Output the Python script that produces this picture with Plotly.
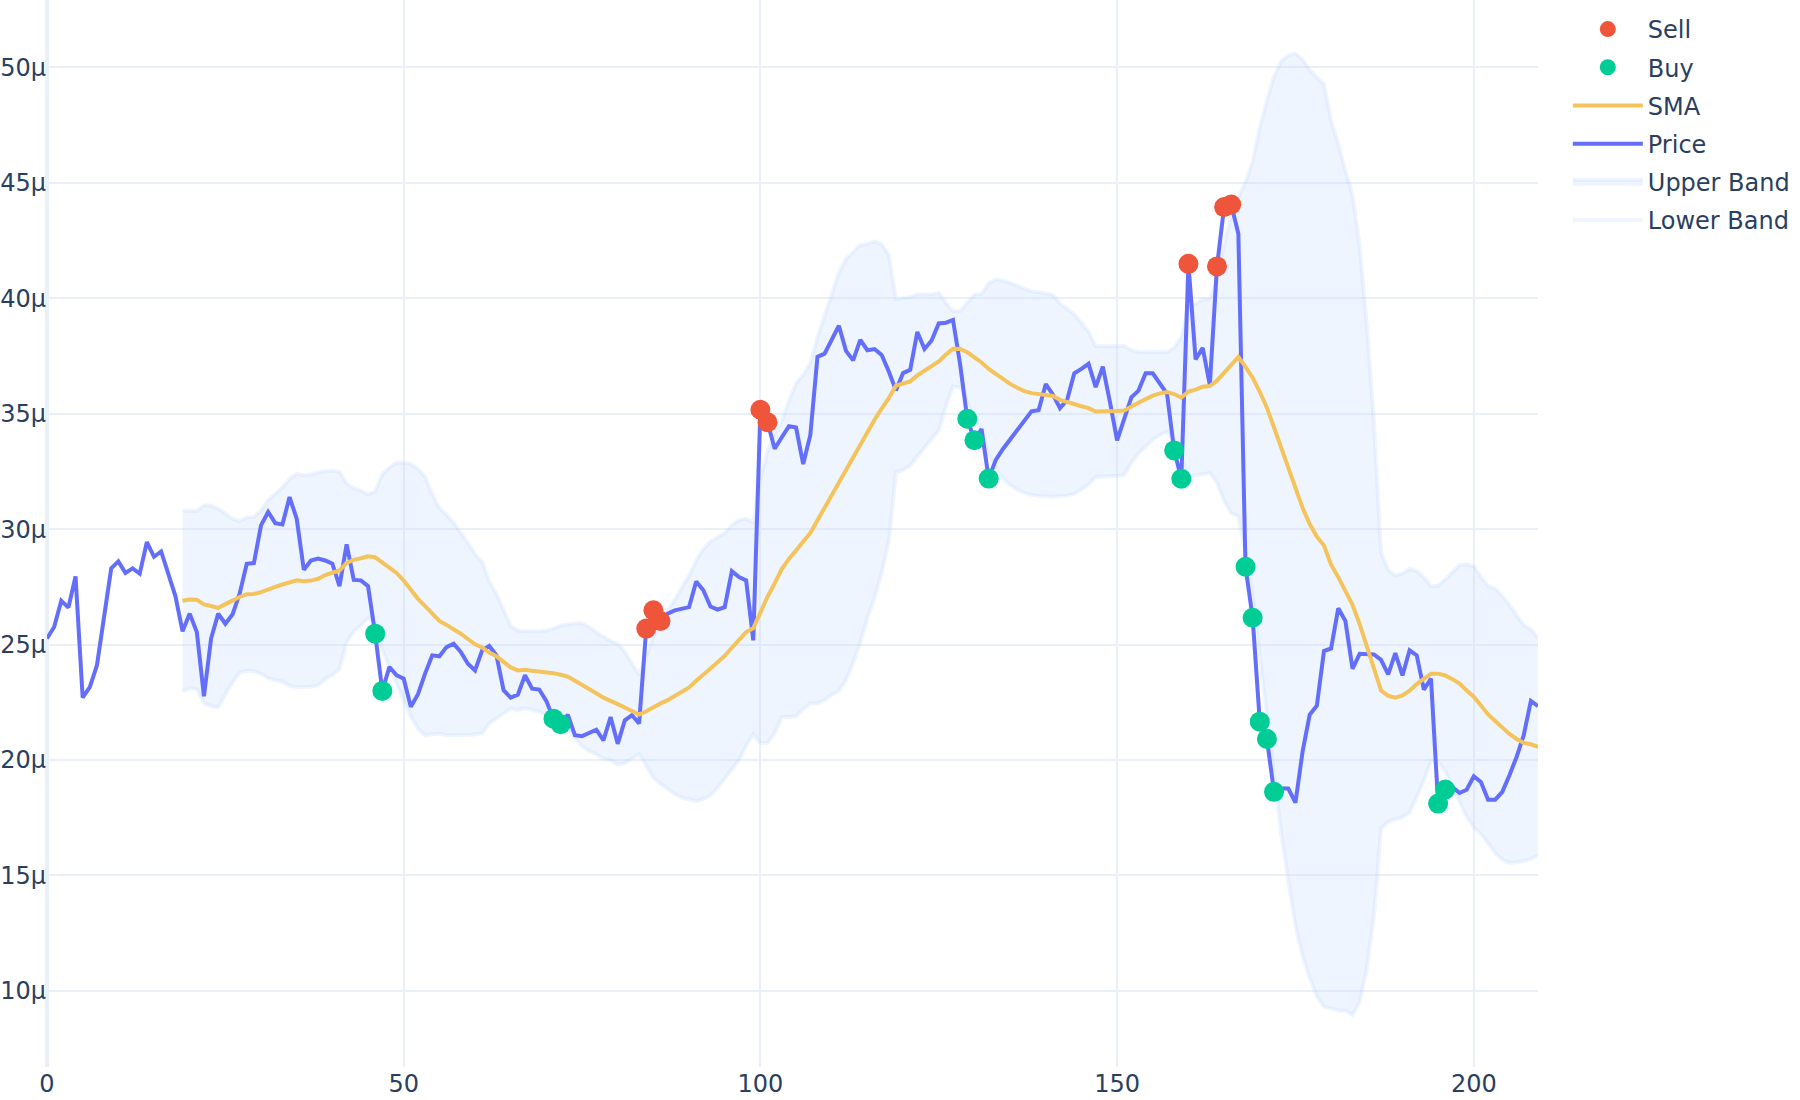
import plotly.graph_objects as go

# Price (in µ units), one value per index 0..209
price = [25.26, 25.76, 26.90, 26.60, 27.95, 22.70, 23.16, 24.10, 26.20, 28.30,
         28.60, 28.10, 28.30, 28.07, 29.44, 28.80, 29.03, 28.07, 27.10, 25.57,
         26.34, 25.54, 22.76, 25.26, 26.34, 25.90, 26.30, 27.20, 28.50, 28.53,
         30.16, 30.74, 30.26, 30.20, 31.39, 30.45, 28.24, 28.64, 28.72, 28.64,
         28.50, 27.53, 29.34, 27.80, 27.78, 27.53, 25.47, 22.99, 24.03, 23.67,
         23.52, 22.30, 22.85, 23.74, 24.53, 24.49, 24.89, 25.04, 24.68, 24.17,
         23.88, 24.75, 24.94, 24.53, 23.02, 22.70, 22.83, 23.67, 23.09, 23.05,
         22.55, 21.79, 21.55, 21.96, 21.07, 21.03, 21.17, 21.31, 20.85, 21.86,
         20.70, 21.72, 21.94, 21.58, 25.69, 26.48, 26.02, 26.34, 26.48, 26.55,
         26.62, 27.73, 27.35, 26.65, 26.51, 26.62, 28.18, 27.92, 27.78, 25.18,
         35.17, 34.63, 33.48, 33.98, 34.46, 34.40, 32.82, 34.08, 37.46, 37.60,
         38.17, 38.81, 37.72, 37.31, 38.20, 37.75, 37.80, 37.54, 36.83, 36.01,
         36.76, 36.90, 38.54, 37.80, 38.17, 38.91, 38.94, 39.06, 37.13, 34.78,
         33.85, 34.33, 32.19, 33.00, 33.47, 33.87, 34.28, 34.70, 35.10, 35.15,
         36.28, 35.83, 35.24, 35.60, 36.75, 36.94, 37.16, 36.15, 37.04, 35.50,
         33.84, 34.78, 35.71, 36.00, 36.75, 36.75, 36.30, 35.86, 33.41, 32.18,
         41.49, 37.35, 37.85, 36.24, 41.38, 43.95, 44.06, 42.79, 28.37, 26.16,
         21.66, 20.91, 18.62, 18.76, 18.76, 18.15, 20.36, 21.96, 22.35, 24.72,
         24.83, 26.57, 26.02, 23.95, 24.60, 24.60, 24.57, 24.34, 23.71, 24.63,
         23.66, 24.75, 24.53, 23.05, 23.52, 18.11, 18.72, 18.83, 18.57, 18.71,
         19.29, 19.05, 18.28, 18.28, 18.62, 19.34, 20.13, 21.07, 22.56, 22.33]

# Indicator series (µ units) for indices 19..209
band_start = 19
sma = [26.90, 26.95, 26.94, 26.74, 26.67, 26.59, 26.75, 26.91, 27.06, 27.18,
       27.19, 27.27, 27.40, 27.50, 27.60, 27.70, 27.78, 27.74, 27.77, 27.85,
       28.01, 28.11, 28.21, 28.54, 28.67, 28.74, 28.82, 28.78, 28.57, 28.35,
       28.10, 27.77, 27.35, 26.98, 26.66, 26.31, 26.02, 25.85, 25.67, 25.47,
       25.24, 25.01, 24.87, 24.65, 24.49, 24.25, 24.01, 23.88, 23.91, 23.86,
       23.83, 23.78, 23.76, 23.69, 23.61, 23.43, 23.26, 23.07, 22.89, 22.70,
       22.58, 22.42, 22.27, 22.12, 21.97, 22.11, 22.29, 22.45, 22.59, 22.76,
       22.93, 23.14, 23.43, 23.72, 23.96, 24.23, 24.51, 24.86, 25.19, 25.54,
       25.70, 26.43, 27.07, 27.65, 28.27, 28.71, 29.10, 29.44, 29.83, 30.38,
       30.93, 31.51, 32.06, 32.58, 33.11, 33.70, 34.25, 34.74, 35.22, 35.67,
       36.21, 36.29, 36.40, 36.66, 36.85, 37.03, 37.26, 37.56, 37.81, 37.80,
       37.66, 37.44, 37.22, 36.94, 36.72, 36.49, 36.29, 36.12, 35.98, 35.89,
       35.85, 35.82, 35.77, 35.60, 35.49, 35.42, 35.32, 35.24, 35.09, 35.09,
       35.12, 35.12, 35.14, 35.32, 35.47, 35.63, 35.78, 35.88, 35.94, 35.85,
       35.70, 35.96, 36.04, 36.17, 36.20, 36.43, 36.78, 37.13, 37.46, 37.03,
       36.56, 35.95, 35.26, 34.40, 33.54, 32.64, 31.71, 30.92, 30.22, 29.67,
       29.29, 28.46, 27.92, 27.33, 26.72, 25.88, 24.91, 23.94, 23.01, 22.78,
       22.70, 22.80, 23.00, 23.29, 23.51, 23.74, 23.74, 23.66, 23.50, 23.31,
       23.01, 22.74, 22.36, 21.97, 21.69, 21.39, 21.13, 20.91, 20.74, 20.68,
       20.57]
upper = [30.81, 30.79, 30.79, 31.03, 31.01, 30.89, 30.66, 30.45, 30.34, 30.50,
         30.53, 30.81, 31.26, 31.55, 31.81, 32.18, 32.40, 32.33, 32.37, 32.46,
         32.51, 32.54, 32.48, 31.98, 31.77, 31.67, 31.50, 31.64, 32.38, 32.67,
         32.89, 32.88, 32.81, 32.61, 32.26, 31.51, 30.90, 30.63, 30.28, 29.87,
         29.40, 28.91, 28.59, 27.72, 27.18, 26.52, 25.79, 25.60, 25.58, 25.56,
         25.57, 25.61, 25.69, 25.82, 25.89, 25.92, 25.92, 25.76, 25.53, 25.35,
         25.16, 25.05, 24.68, 24.18, 23.69, 24.47, 25.35, 25.93, 26.46, 27.00,
         27.49, 27.99, 28.64, 29.13, 29.46, 29.66, 29.83, 30.17, 30.39, 30.45,
         30.29, 32.13, 33.41, 34.13, 34.68, 35.56, 36.31, 36.68, 37.20, 38.31,
         39.27, 40.19, 41.12, 41.70, 42.01, 42.31, 42.35, 42.46, 42.33, 41.87,
         39.96, 40.02, 40.05, 40.16, 40.15, 40.17, 40.25, 39.79, 39.44, 39.45,
         39.80, 40.15, 40.19, 40.65, 40.81, 40.77, 40.67, 40.54, 40.39, 40.29,
         40.27, 40.22, 40.14, 39.77, 39.53, 39.31, 38.93, 38.56, 37.92, 37.91,
         37.93, 37.93, 37.93, 37.75, 37.66, 37.67, 37.70, 37.68, 37.66, 37.87,
         38.29, 39.62, 39.76, 39.95, 39.97, 40.85, 42.33, 43.57, 44.36, 45.04,
         45.92, 47.40, 48.55, 49.62, 50.26, 50.53, 50.60, 50.34, 49.89, 49.58,
         49.28, 47.68, 46.69, 45.52, 44.48, 42.25, 38.89, 34.64, 29.00, 28.23,
         27.99, 28.08, 28.28, 28.18, 27.92, 27.54, 27.55, 27.83, 28.15, 28.44,
         28.48, 28.39, 27.93, 27.54, 27.42, 27.10, 26.71, 26.26, 25.84, 25.66,
         25.27]
lower = [22.99, 23.11, 23.09, 22.45, 22.33, 22.29, 22.84, 23.37, 23.78, 23.86,
         23.85, 23.73, 23.54, 23.45, 23.39, 23.22, 23.16, 23.15, 23.17, 23.24,
         23.51, 23.68, 23.94, 25.10, 25.57, 25.81, 26.14, 25.92, 24.76, 24.03,
         23.31, 22.66, 21.89, 21.35, 21.06, 21.11, 21.14, 21.07, 21.06, 21.07,
         21.08, 21.11, 21.15, 21.58, 21.80, 21.98, 22.23, 22.16, 22.24, 22.16,
         22.09, 21.95, 21.83, 21.56, 21.33, 20.94, 20.60, 20.38, 20.25, 20.05,
         20.00, 19.79, 19.86, 20.06, 20.25, 19.75, 19.23, 18.97, 18.72, 18.52,
         18.37, 18.29, 18.22, 18.31, 18.46, 18.80, 19.19, 19.55, 19.99, 20.63,
         21.11, 20.73, 20.73, 21.17, 21.86, 21.86, 21.89, 22.20, 22.46, 22.45,
         22.59, 22.83, 23.00, 23.46, 24.21, 25.09, 26.15, 27.02, 28.11, 29.47,
         32.46, 32.56, 32.75, 33.16, 33.55, 33.89, 34.27, 35.33, 36.18, 36.15,
         35.52, 34.73, 34.25, 33.23, 32.63, 32.21, 31.91, 31.70, 31.57, 31.49,
         31.43, 31.42, 31.40, 31.43, 31.45, 31.53, 31.71, 31.92, 32.26, 32.27,
         32.31, 32.31, 32.35, 32.89, 33.28, 33.59, 33.86, 34.08, 34.22, 33.83,
         33.11, 32.30, 32.32, 32.39, 32.43, 32.01, 31.23, 30.69, 30.56, 29.02,
         27.20, 24.50, 21.97, 19.18, 16.82, 14.75, 12.82, 11.50, 10.55, 9.76,
         9.30, 9.24, 9.15, 9.14, 8.96, 9.51, 10.93, 13.24, 17.02, 17.33,
         17.41, 17.52, 17.72, 18.40, 19.10, 19.94, 19.93, 19.49, 18.85, 18.18,
         17.54, 17.09, 16.79, 16.40, 15.96, 15.68, 15.55, 15.56, 15.64, 15.70,
         15.87]

buy_idx = [46, 47, 71, 72, 129, 130, 132, 158, 159, 168, 169, 170, 171, 172, 195, 196]
sell_idx = [84, 85, 86, 100, 101, 160, 164, 165, 166]

x_ticks = [0, 50, 100, 150, 200]
y_ticks = [10, 15, 20, 25, 30, 35, 40, 45, 50]

U = 1e-6  # values are in micro-units
x_all = list(range(len(price)))
x_band = list(range(band_start, band_start + len(sma)))

band_line = 'rgba(173,204,255,0.2)'
band_fill = 'rgba(173,204,255,0.2)'

fig = go.Figure()
fig.add_trace(go.Scatter(x=x_band, y=[v * U for v in lower], name='Lower Band', mode='lines',
                         legendgroup='lower', legendrank=6,
                         line=dict(color=band_line, width=4)))
fig.add_trace(go.Scatter(x=x_band, y=[v * U for v in upper], name='Upper Band', mode='lines',
                         legendgroup='upper', legendrank=5,
                         line=dict(color=band_line, width=4),
                         fill='tonexty', fillcolor=band_fill))
fig.add_trace(go.Scatter(x=x_all, y=[v * U for v in price], name='Price', mode='lines',
                         legendgroup='price', legendrank=4,
                         line=dict(color='#636EFA', width=4)))
fig.add_trace(go.Scatter(x=x_band, y=[v * U for v in sma], name='SMA', mode='lines',
                         legendgroup='sma', legendrank=3,
                         line=dict(color='#F5C35B', width=4)))
fig.add_trace(go.Scatter(x=buy_idx, y=[price[i] * U for i in buy_idx], name='Buy', mode='markers',
                         legendgroup='buy', legendrank=2,
                         marker=dict(color='#00CC96', size=20)))
fig.add_trace(go.Scatter(x=sell_idx, y=[price[i] * U for i in sell_idx], name='Sell', mode='markers',
                         legendgroup='sell', legendrank=1,
                         marker=dict(color='#EF553B', size=20)))

fig.update_layout(
    template='plotly_white',
    width=1800, height=1100,
    margin=dict(l=47, r=262, t=0, b=33),
    font=dict(family='DejaVu Sans', size=24, color='#2a3f5f'),
    legend=dict(traceorder='grouped', tracegroupgap=4, itemwidth=70,
                y=0.9935, font=dict(size=24)),
)
fig.update_xaxes(range=[0, 209], gridwidth=2, zerolinewidth=4, tickvals=x_ticks)
fig.update_yaxes(range=[6.7e-6, 52.92e-6], gridwidth=2, tickvals=[v * U for v in y_ticks])
fig.write_html('out.html')
